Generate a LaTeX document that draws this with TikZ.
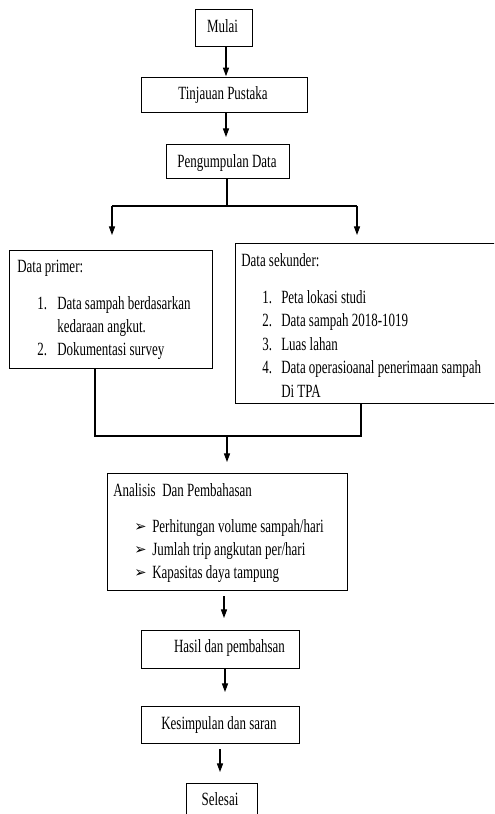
\documentclass[tikz,border=0pt]{standalone}
\usepackage{fontspec}
\setmainfont{Liberation Serif}[FakeStretch=0.695]
\newfontfamily\dejavu{DejaVu Sans}
\usetikzlibrary{arrows.meta}
\begin{document}
\begin{tikzpicture}[x=0.75pt,y=-0.75pt,
  box/.style={draw, line width=0.95pt, inner sep=0pt, anchor=north west},
  txt/.style={anchor=base, inner sep=0pt, font=\fontsize{14pt}{16pt}\selectfont},
  ltxt/.style={txt, anchor=base west},
  conn/.style={line width=0.8pt},
  arr/.style={conn, -{Triangle[length=6.5pt,width=4.6pt]}},
  bul/.style={anchor=base west, inner sep=0pt, font=\dejavu\fontsize{11pt}{12pt}\selectfont}]
\useasboundingbox (0,0) rectangle (494,814);
\clip (0,0) rectangle (494,814);
% boxes
\node[box, minimum width=42.75pt, minimum height=27.75pt] (mulai) at (195,9) {};
\node[box, minimum width=124.5pt, minimum height=26.25pt] (tinj) at (141,77) {};
\node[box, minimum width=92.25pt, minimum height=25.5pt] (kump) at (166,144) {};
\node[box, minimum width=152.25pt, minimum height=88.5pt] (primer) at (9,250) {};
\node[box, minimum width=198pt, minimum height=120pt] (sekunder) at (235,243) {};
\node[box, minimum width=180pt, minimum height=87.75pt] (analisis) at (107,473) {};
\node[box, minimum width=118.5pt, minimum height=28.5pt] (hasil) at (141,630) {};
\node[box, minimum width=118.5pt, minimum height=27.75pt] (kesim) at (141,706) {};
\node[box, minimum width=53.25pt, minimum height=30pt] (selesai) at (186,783) {};
% texts
\node[txt] (tmulai) at (222.5,32) {Mulai};
\node[txt] (ttinj) at (223,99.5) {Tinjauan Pustaka};
\node[txt] (tkump) at (227,167) {Pengumpulan Data};
\node[ltxt] (p0) at (17,272) {Data primer:};
\node[ltxt] (p1n) at (37,309) {1.};
\node[ltxt] (p1) at (57,309) {Data sampah berdasarkan};
\node[ltxt] (p1b) at (57,332) {kedaraan angkut.};
\node[ltxt] (p2n) at (37,355) {2.};
\node[ltxt] (p2) at (57,355) {Dokumentasi survey};
\node[ltxt] (s0) at (241,266) {Data sekunder:};
\node[ltxt] (s1n) at (262,303) {1.};
\node[ltxt] (s1) at (281,303) {Peta lokasi studi};
\node[ltxt] (s2n) at (262,326.5) {2.};
\node[ltxt] (s2) at (281,326.5) {Data sampah 2018-1019};
\node[ltxt] (s3n) at (262,350) {3.};
\node[ltxt] (s3) at (281,350) {Luas lahan};
\node[ltxt] (s4n) at (262,373.5) {4.};
\node[ltxt] (s4) at (281,373.5) {Data operasioanal penerimaan sampah};
\node[ltxt] (s4b) at (281,397) {Di TPA};
\node[ltxt] (a0) at (113,496) {Analisis\ \ Dan Pembahasan};
\node[bul] (b1) at (134,531) {➢};
\node[ltxt] (a1) at (152,532) {Perhitungan volume sampah/hari};
\node[bul] (b2) at (134,554) {➢};
\node[ltxt] (a2) at (152,555) {Jumlah trip angkutan per/hari};
\node[bul] (b3) at (134,577) {➢};
\node[ltxt] (a3) at (152,578) {Kapasitas daya tampung};
\node[txt] (thasil) at (229.5,652) {Hasil dan pembahsan};
\node[txt] (tkesim) at (219,729) {Kesimpulan dan saran};
\node[txt] (tsel) at (220,805) {Selesai};
% connectors
\coordinate (x1) at (226,0);
\draw[arr, shorten >=0.6pt] (mulai.south -| x1) -- (tinj.north -| x1);
\draw[arr, shorten >=5.2pt] (tinj.south -| x1) -- (kump.north -| x1);
\coordinate (split) at (227,206);
\coordinate (sl) at (112,206);
\coordinate (sr) at (357,206);
\draw[conn] (kump.south -| split) -- (split);
\draw[conn] (sl) -- (sr);
\draw[arr, shorten >=11.25pt] (sl) -- (primer.north -| sl);
\draw[arr, shorten >=6pt] (sr) -- (sekunder.north -| sr);
\coordinate (ml) at (95,436);
\coordinate (mr) at (361,436);
\coordinate (mm) at (227,436);
\draw[conn] (primer.south -| ml) -- (ml) -- (mr) -- (sekunder.south -| mr);
\draw[arr, shorten >=8.25pt] (mm) -- (analisis.north -| mm);
\coordinate (x2) at (224,0);
\draw[arr, shorten <=3.75pt, shorten >=9pt] (analisis.south -| x2) -- (hasil.north -| x2);
\coordinate (x3) at (225,0);
\draw[arr, shorten >=10.5pt] (hasil.south -| x3) -- (kesim.north -| x3);
\coordinate (x4) at (220,0);
\draw[arr, shorten <=3.75pt, shorten >=8.25pt] (kesim.south -| x4) -- (selesai.north -| x4);
\end{tikzpicture}
\end{document}
